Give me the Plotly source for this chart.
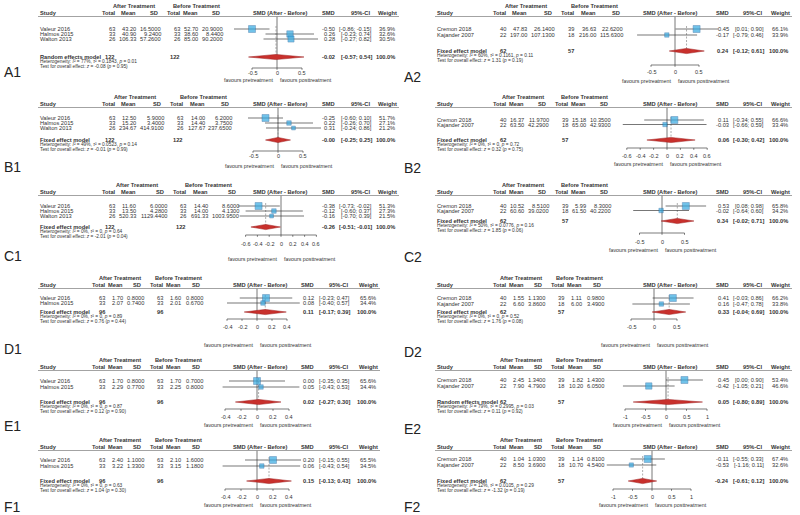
import plotly.graph_objects as go

W, H = 800, 515
FONT = "Arial, Liberation Sans, sans-serif"
TEXT = "#333333"
FS = 5.7

# ---------------- data ----------------
panel_ids = ["A1", "A2", "B1", "B2", "C1", "C2", "D1", "D2", "E1", "E2", "F1", "F2"]

studies_3 = ["Valeur 2016", "Halmos 2015", "Walton 2013"]
studies_2l = ["Valeur 2016", "Halmos 2015"]
studies_2r = ["Cremon 2018", "Kajander 2007"]
study_names = [studies_3, studies_2r, studies_3, studies_2r, studies_3, studies_2r,
               studies_2l, studies_2r, studies_2l, studies_2r, studies_2l, studies_2r]

after_total = [[63, 33, 26], [40, 22], [63, 33, 26], [40, 22], [63, 33, 26], [40, 22],
               [63, 33], [40, 22], [63, 33], [40, 22], [63, 33], [40, 22]]
before_total = [[63, 33, 26], [39, 18], [63, 33, 26], [39, 18], [63, 33, 26], [39, 18],
                [63, 33], [39, 18], [63, 33], [39, 18], [63, 33], [39, 18]]

after_mean = [[43.20, 40.90, 106.33], [47.83, 197.00], [12.50, 15.20, 234.67], [16.37, 63.50],
              [11.60, 13.50, 520.33], [10.52, 60.60], [1.70, 2.07], [1.55, 6.60],
              [1.70, 2.29], [2.45, 7.90], [2.40, 3.22], [1.04, 8.50]]
after_sd = [[16.5, 9.24, 57.26], [26.14, 107.13], [5.9, 3.4, 414.91], [11.97, 42.29],
            [6.0, 4.28, 1129.44], [8.51, 39.02], [0.8, 0.74], [1.13, 3.86],
            [0.8, 0.77], [1.34, 4.79], [1.1, 1.33], [1.03, 3.69]]
before_mean = [[52.70, 38.60, 85.00], [36.63, 216.00], [14.00, 14.40, 127.67], [15.18, 65.00],
               [14.40, 14.00, 691.33], [5.99, 61.50], [1.60, 2.01], [1.11, 6.00],
               [1.70, 2.25], [1.82, 10.20], [2.10, 3.15], [1.14, 10.70]]
before_sd = [[20.9, 8.44, 90.2], [22.62, 115.63], [6.2, 3.75, 237.65], [10.35, 42.93],
             [8.6, 4.13, 1003.95], [8.3, 40.22], [0.8, 0.67], [0.98, 3.49],
             [0.7, 0.8], [1.43, 6.05], [1.6, 1.18], [0.81, 4.54]]

smd = [[-0.50, 0.26, 0.28], [0.45, -0.17], [-0.25, 0.22, 0.31], [0.11, -0.03],
       [-0.38, -0.12, -0.16], [0.53, -0.02], [0.12, 0.08], [0.41, 0.16],
       [0.00, 0.05], [0.45, -0.42], [0.20, 0.06], [-0.11, -0.53]]
ci_lo = [[-0.86, -0.23, -0.27], [0.01, -0.79], [-0.60, -0.26, -0.24], [-0.34, -0.66],
         [-0.73, -0.60, -0.70], [0.08, -0.64], [-0.23, -0.40], [-0.03, -0.47],
         [-0.35, -0.43], [0.00, -1.05], [-0.15, -0.43], [-0.55, -1.16]]
ci_hi = [[-0.15, 0.74, 0.82], [0.90, 0.46], [0.10, 0.70, 0.86], [0.55, 0.59],
         [-0.02, 0.37, 0.39], [0.98, 0.60], [0.47, 0.57], [0.86, 0.78],
         [0.35, 0.53], [0.90, 0.21], [0.55, 0.54], [0.33, 0.11]]
weight = [[36.9, 32.6, 30.5], [66.1, 33.9], [51.7, 27.1, 21.2], [66.6, 33.4],
          [51.3, 27.3, 21.5], [65.8, 34.2], [65.6, 34.4], [66.2, 33.8],
          [65.6, 34.4], [53.4, 46.6], [65.5, 34.5], [67.4, 32.6]]

model = ["Random", "Fixed", "Fixed", "Fixed", "Fixed", "Fixed",
         "Fixed", "Fixed", "Fixed", "Random", "Fixed", "Fixed"]
pooled_est = [-0.02, 0.24, -0.00, 0.06, -0.26, 0.34, 0.11, 0.33, 0.02, 0.05, 0.15, -0.24]
pooled_lo = [-0.57, -0.12, -0.25, -0.30, -0.51, -0.02, -0.17, -0.04, -0.27, -0.80, -0.13, -0.61]
pooled_hi = [0.54, 0.61, 0.25, 0.42, -0.01, 0.71, 0.39, 0.69, 0.30, 0.89, 0.43, 0.12]
i2 = [77, 60, 49, 0, 0, 50, 0, 0, 0, 79, 0, 12]
tau2 = [0.1843, 0.1161, 0.0523, 0, 0, 0.0776, 0, 0, 0, 0.2995, 0, 0.0105]
het_p = [0.01, 0.11, 0.14, 0.72, 0.64, 0.16, 0.89, 0.52, 0.87, 0.03, 0.63, 0.29]
z_val = [-0.08, 1.31, -0.01, 0.32, -2.01, 1.85, 0.76, 1.76, 0.12, 0.11, 1.04, -1.32]
z_p = [0.95, 0.19, 0.99, 0.75, 0.04, 0.06, 0.44, 0.08, 0.90, 0.92, 0.30, 0.19]

ticks_half = [-0.5, 0, 0.5]
ticks_six = [-0.6, -0.4, -0.2, 0, 0.2, 0.4, 0.6]
ticks_four = [-0.4, -0.2, 0, 0.2, 0.4]
ticks_one = [-1, -0.5, 0, 0.5, 1]
axis_ticks = [ticks_half, ticks_half, ticks_half, ticks_six, ticks_six, ticks_half,
              ticks_four, ticks_half, ticks_four, ticks_one, ticks_four, ticks_one]

# ---------------- page layout (pixels) ----------------
col_x0 = [0, 400] * 6
tmpl = ["L3", "R", "L3", "R", "L3", "R", "L2", "R", "L2", "R", "L2", "R"]
zero_px = [277, 275, 278, 267, 281, 262, 257, 254, 257, 266, 257, 252]
unit_px = [50, 48, 50, 67, 59, 45, 75, 46, 80, 41, 80, 39]
y_head = [6, 6, 97, 97, 185, 185, 278, 278, 360, 360, 440, 440]
y_row0 = [29, 29, 118, 120, 206, 206, 298, 298, 381, 380, 460, 459]
row_step = [5, 6, 5, 4.5, 5, 4.5, 5, 6, 6, 6, 6, 6]
y_pool = [57, 51, 140, 140, 227, 221, 312, 312, 402, 402, 481, 481]
y_axis = [68, 65, 151, 148, 235, 233, 319, 319, 409, 409, 489, 489]
y_ticklab = [73, 72, 156, 156, 244, 242, 327, 327, 417, 417, 497, 497]
y_fav = [80, 81, 166, 164, 259, 250, 345, 345, 425, 425, 505, 505]
y_label = [72, 77, 167, 168, 256, 257, 349, 352, 426, 429, 507, 507]

COLS = {
    "L3": dict(study=38, aT=117, fh=280, smd=337, ci=374, w=397),
    "L2": dict(study=38, aT=107, fh=260, smd=316, ci=352, w=378),
    "R": dict(study=35, aT=108, fh=270, smd=331, ci=366, w=390),
}
CHAR_EM = {".": 0.278, "-": 0.333, " ": 0.278, "%": 0.889, "[": 0.278, "]": 0.278, ";": 0.278}


def text_w(s, size=FS):
    return sum(CHAR_EM.get(ch, 0.556) for ch in s) * size


fig = go.Figure()
annotations = []
shapes = []


def txt(x, y, s, anchor="left", size=FS, bold=False, xref="paper", color=TEXT):
    if bold:
        s = f"<b>{s}</b>"
    annotations.append(dict(
        x=x / W if xref == "paper" else x, y=y, xref=xref, yref="y", text=s,
        showarrow=False, xanchor=anchor, yanchor="middle",
        font=dict(size=size, color=color, family=FONT),
    ))


for i, pid in enumerate(panel_ids):
    c = COLS[tmpl[i]]
    x0 = col_x0[i]
    xa = "x" if i == 0 else f"x{i + 1}"
    axname = "xaxis" if i == 0 else f"xaxis{i + 1}"
    zg = x0 + zero_px[i]
    s = unit_px[i]
    left, right = x0 + 190, x0 + 342
    fig.update_layout(**{axname: dict(domain=[left / W, right / W],
                                       range=[(left - zg) / s, (right - zg) / s],
                                       visible=False, anchor="y", fixedrange=True)})

    n = len(study_names[i])
    ys = [y_row0[i] + k * row_step[i] for k in range(n)]
    h1 = y_head[i]
    h2 = h1 + 7
    uline = h1 + 10.5
    yp = y_pool[i]

    # column strings and content-sized column positions
    a_mean_s = [f"{v:.2f}" for v in after_mean[i]]
    a_sd_s = [f"{v:.4f}" for v in after_sd[i]]
    b_mean_s = [f"{v:.2f}" for v in before_mean[i]]
    b_sd_s = [f"{v:.4f}" for v in before_sd[i]]
    aT = x0 + c["aT"]
    aM = aT + 4 + max(14, max(text_w(t) for t in a_mean_s))
    aS = aM + 4 + max(8, max(text_w(t) for t in a_sd_s))
    bT = aS + 6 + 13
    bM = bT + 4 + max(14, max(text_w(t) for t in b_mean_s))
    bS = bM + 4 + max(8, max(text_w(t) for t in b_sd_s))

    # headers
    txt((aT - 13 + aS) / 2, h1, "After Treatment", "center", bold=True)
    txt((bT - 13 + bS) / 2, h1, "Before Treatment", "center", bold=True)
    txt(x0 + c["study"], h2, "Study", "left", bold=True)
    txt(aT + 1, h2, "Total", "right", bold=True)
    txt(aM, h2, "Mean", "right", bold=True)
    txt(aS - 3, h2, "SD", "right", bold=True)
    txt(bT + 1, h2, "Total", "right", bold=True)
    txt(bM, h2, "Mean", "right", bold=True)
    txt(bS - 3, h2, "SD", "right", bold=True)
    txt(x0 + c["fh"], h2, "SMD (After - Before)", "center", bold=True)
    txt(x0 + c["smd"], h2, "SMD", "right", bold=True)
    txt(x0 + c["ci"] - 14, h2, "95%-CI", "center", bold=True)
    txt(x0 + c["w"] + 2, h2, "Weight", "right", bold=True)
    shapes.append(dict(type="line", xref="paper", yref="y",
                       x0=(x0 + c["study"]) / W, x1=(x0 + c["w"] + 2) / W,
                       y0=uline, y1=uline, line=dict(color="#8c8c8c", width=0.8)))

    # study rows
    for k in range(n):
        y = ys[k]
        txt(x0 + c["study"], y, study_names[i][k])
        txt(aT, y, f"{after_total[i][k]}", "right")
        txt(aM, y, a_mean_s[k], "right")
        txt(aS, y, a_sd_s[k], "right")
        txt(bT, y, f"{before_total[i][k]}", "right")
        txt(bM, y, b_mean_s[k], "right")
        txt(bS, y, b_sd_s[k], "right")
        txt(x0 + c["smd"], y, f"{smd[i][k]:.2f}", "right")
        txt(x0 + c["ci"], y, f"[{ci_lo[i][k]:.2f}; {ci_hi[i][k]:.2f}]", "right")
        txt(x0 + c["w"], y, f"{weight[i][k]:.1f}%", "right")

    # pooled row
    label = "Random effects model" if model[i] == "Random" else "Fixed effect model"
    txt(x0 + c["study"], yp, label, bold=True)
    txt(aT, yp, f"{sum(after_total[i])}", "right", bold=True)
    txt(bT, yp, f"{sum(before_total[i])}", "right", bold=True)
    txt(x0 + c["smd"], yp, f"{pooled_est[i]:.2f}", "right", bold=True)
    txt(x0 + c["ci"], yp, f"[{pooled_lo[i]:.2f}; {pooled_hi[i]:.2f}]", "right", bold=True)
    txt(x0 + c["w"], yp, "100.0%", "right", bold=True)
    tau_s = "0" if tau2[i] == 0 else f"{tau2[i]:.4f}"
    txt(x0 + c["study"], yp + 4.7,
        f"Heterogeneity: <i>I</i>² = {i2[i]}%, <i>τ</i>² = {tau_s}, <i>p</i> = {het_p[i]:.2f}",
        size=4.8)
    txt(x0 + c["study"], yp + 9.3,
        f"Test for overall effect: <i>z</i> = {z_val[i]:.2f} (<i>p</i> = {z_p[i]:.2f})",
        size=4.8)

    # reference lines
    fig.add_trace(go.Scatter(x=[0, 0], y=[uline, y_axis[i]], xaxis=xa, yaxis="y",
                             mode="lines", line=dict(color="#555555", width=0.8),
                             hoverinfo="skip"))
    fig.add_trace(go.Scatter(x=[pooled_est[i], pooled_est[i]], y=[ys[0] - 3, yp],
                             xaxis=xa, yaxis="y", mode="lines",
                             line=dict(color="#8a8a8a", width=0.7, dash="2px,1.5px"),
                             hoverinfo="skip"))

    # CI lines
    lx, ly = [], []
    for k in range(n):
        lx += [ci_lo[i][k], ci_hi[i][k], None]
        ly += [ys[k], ys[k], None]
    fig.add_trace(go.Scatter(x=lx, y=ly, xaxis=xa, yaxis="y", mode="lines",
                             line=dict(color="#3c3c3c", width=0.7), hoverinfo="skip"))

    # weighted boxes
    wmax = max(weight[i])
    fig.add_trace(go.Scatter(
        x=smd[i], y=ys, xaxis=xa, yaxis="y", mode="markers",
        marker=dict(symbol="square", color="#34a9e0",
                    size=[7 * (w / wmax) ** 0.7 for w in weight[i]],
                    line=dict(color="#1f5d99", width=0.5)),
        hoverinfo="skip"))

    # pooled diamond
    fig.add_trace(go.Scatter(
        x=[pooled_lo[i], pooled_est[i], pooled_hi[i], pooled_est[i], pooled_lo[i]],
        y=[yp, yp - 2.6, yp, yp + 2.6, yp], xaxis=xa, yaxis="y", mode="lines",
        fill="toself", fillcolor="#c8302c", line=dict(color="#9c1c1c", width=0.5),
        hoverinfo="skip"))

    # x axis
    tv = axis_ticks[i]
    ya = y_axis[i]
    fig.add_trace(go.Scatter(x=[tv[0], tv[-1]], y=[ya, ya], xaxis=xa, yaxis="y",
                             mode="lines", line=dict(color="#444444", width=0.7),
                             hoverinfo="skip"))
    tx, ty = [], []
    for t in tv:
        tx += [t, t, None]
        ty += [ya, ya + 1.8, None]
    fig.add_trace(go.Scatter(x=tx, y=ty, xaxis=xa, yaxis="y", mode="lines",
                             line=dict(color="#444444", width=0.7), hoverinfo="skip"))
    for t in tv:
        txt(t, y_ticklab[i], f"{t:g}", "center", size=5.5, xref=xa)

    txt(zg - 2, y_fav[i], "favours pretreatment", "right", size=5.3)
    txt(zg + 1, y_fav[i], "favours posttreatment", "left", size=5.3)

    # panel label
    txt(x0 + 2, y_label[i], pid, "left", size=14, color="#222222")

fig.update_layout(
    width=W, height=H,
    margin=dict(l=0, r=0, t=0, b=0),
    paper_bgcolor="white", plot_bgcolor="rgba(0,0,0,0)",
    showlegend=False,
    yaxis=dict(domain=[0, 1], range=[H, 0], visible=False, fixedrange=True),
    annotations=annotations,
    shapes=shapes,
)

fig.write_html("out.html", config={"displayModeBar": False},
               post_script="document.body.style.margin='0';")
